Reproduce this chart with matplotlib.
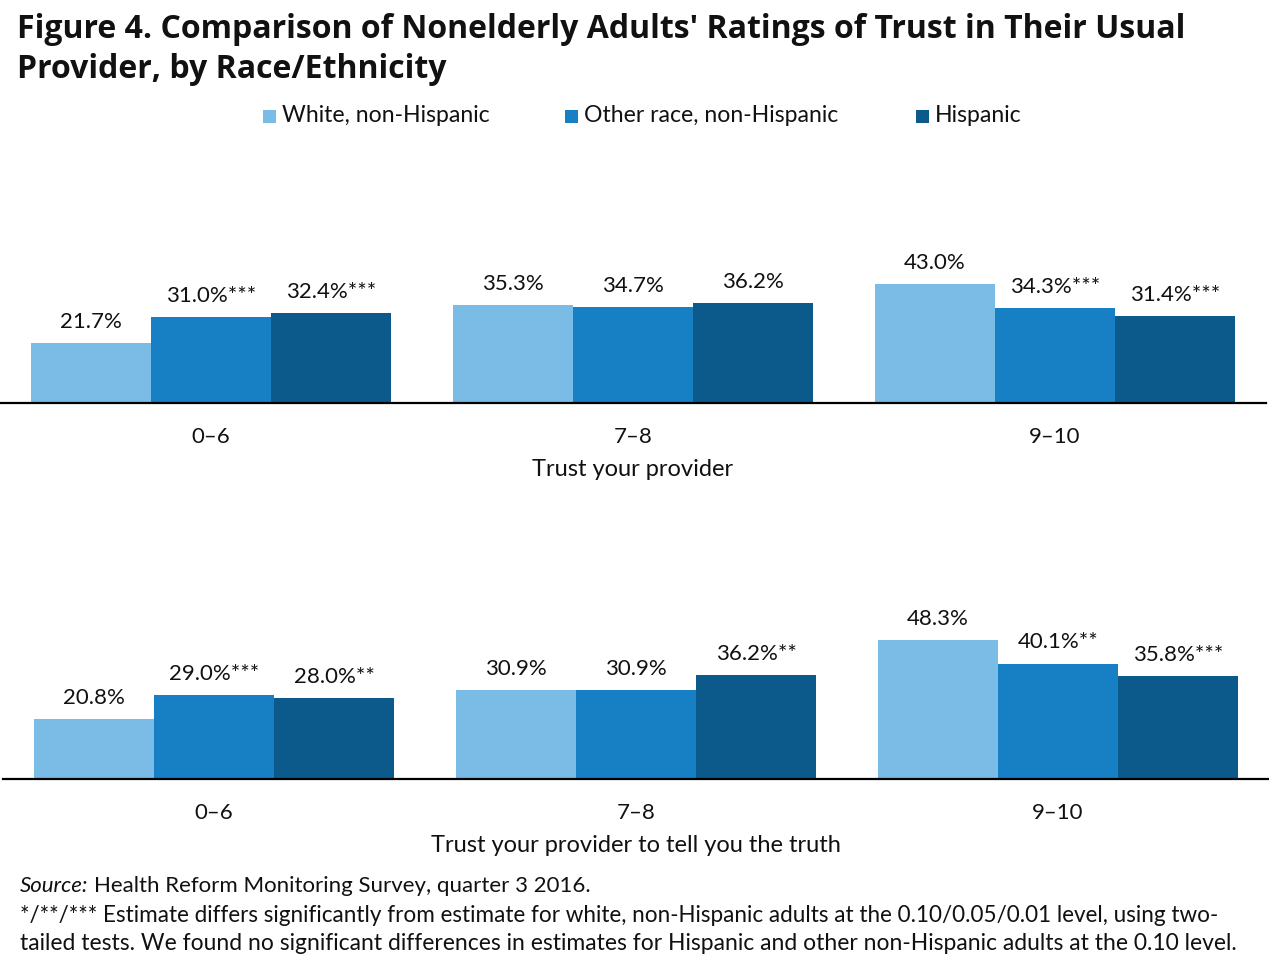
import matplotlib
matplotlib.use("Agg")
import matplotlib.pyplot as plt
import numpy as np

W, H = 1269, 966
FONT = ["Lato", "DejaVu Sans"]
plt.rcParams['font.family'] = FONT

series = ["White, non-Hispanic", "Other race, non-Hispanic", "Hispanic"]
colors = ["#7BBCE6", "#177FC3", "#0C5A8B"]
categories = ["0\u20136", "7\u20138", "9\u201310"]

trust_values = {
    "White, non-Hispanic": [21.7, 35.3, 43.0],
    "Other race, non-Hispanic": [31.0, 34.7, 34.3],
    "Hispanic": [32.4, 36.2, 31.4],
}
trust_sig = {
    "White, non-Hispanic": ["", "", ""],
    "Other race, non-Hispanic": ["***", "", "***"],
    "Hispanic": ["***", "", "***"],
}
truth_values = {
    "White, non-Hispanic": [20.8, 30.9, 48.3],
    "Other race, non-Hispanic": [29.0, 30.9, 40.1],
    "Hispanic": [28.0, 36.2, 35.8],
}
truth_sig = {
    "White, non-Hispanic": ["", "", ""],
    "Other race, non-Hispanic": ["***", "", "**"],
    "Hispanic": ["**", "**", "***"],
}

fig = plt.figure(figsize=(W / 100, H / 100), dpi=100)
renderer = fig.canvas.get_renderer()


def fx(px):
    return px / W


def fy(py):
    return 1 - py / H


def fit(t, target_px):
    w = t.get_window_extent(renderer=renderer).width
    t.set_fontsize(t.get_fontsize() * target_px / w)


def panel(left_px, base_px, px_per_pct, values, sig, xlabel):
    height_px = 220
    ax = fig.add_axes([fx(left_px), fy(base_px), 1266 / W, height_px / H])
    ax.set_xlim(-0.5, 2.5)
    ax.set_ylim(0, height_px / px_per_pct)
    x = np.arange(len(categories))
    bw = 0.285
    for i, s in enumerate(series):
        xs = x + (i - 1) * bw
        ax.bar(xs, values[s], width=bw, color=colors[i], linewidth=0)
        for xi, v, st in zip(xs, values[s], sig[s]):
            ax.annotate(f"{v:.1f}%{st}", (xi, v), xytext=(0, 8),
                        textcoords="offset points", ha="center", va="bottom",
                        fontsize=16, color="#111111")
    for sp in ["top", "left", "right"]:
        ax.spines[sp].set_visible(False)
    ax.spines["bottom"].set_linewidth(1.6)
    ax.spines["bottom"].set_color("black")
    ax.set_yticks([])
    ax.set_xticks(x, categories)
    ax.tick_params(axis="x", length=0, pad=17, labelsize=16, labelcolor="#111111")
    ax.set_xlabel(xlabel, fontsize=17, labelpad=9, color="#111111")
    ax.patch.set_alpha(0)
    return ax


panel(0, 403, 2.765, trust_values, trust_sig, "Trust your provider")
panel(3, 779, 2.88, truth_values, truth_sig, "Trust your provider to tell you the truth")

# Title
t1 = fig.text(fx(17), fy(29), "Figure 4. Comparison of Nonelderly Adults' Ratings of Trust in Their Usual",
              fontsize=22, fontweight="bold", va="center", ha="left", color="#111111",
              family=["Open Sans", "DejaVu Sans"])
fit(t1, 1164)
fig.text(fx(17), fy(69), "Provider, by Race/Ethnicity",
         fontsize=t1.get_fontsize(), fontweight="bold", va="center", ha="left", color="#111111",
         family=["Open Sans", "DejaVu Sans"])

# Legend
leg_sq = [263, 565, 916]
for xpx, s, c in zip(leg_sq, series, colors):
    fig.patches.append(plt.Rectangle((fx(xpx), fy(123)), fx(13), 13 / H,
                                     transform=fig.transFigure, color=c, linewidth=0))
    fig.text(fx(xpx + 19), fy(116), s, fontsize=16.6, va="center", ha="left", color="#111111")

# Footer
fig.text(fx(20), fy(886), "Source:", fontsize=16, style="italic", va="center", ha="left", color="#111111")
fig.text(fx(94), fy(886), "Health Reform Monitoring Survey, quarter 3 2016.",
         fontsize=16, va="center", ha="left", color="#111111")
f2 = fig.text(fx(20), fy(915), "*/**/*** Estimate differs significantly from estimate for white, non-Hispanic adults at the 0.10/0.05/0.01 level, using two-",
              fontsize=16, va="center", ha="left", color="#111111")
fit(f2, 1206)
f3 = fig.text(fx(20), fy(943), "tailed tests. We found no significant differences in estimates for Hispanic and other non-Hispanic adults at the 0.10 level.",
              fontsize=16, va="center", ha="left", color="#111111")
fit(f3, 1220)

fig.savefig("out.png", dpi=100)
